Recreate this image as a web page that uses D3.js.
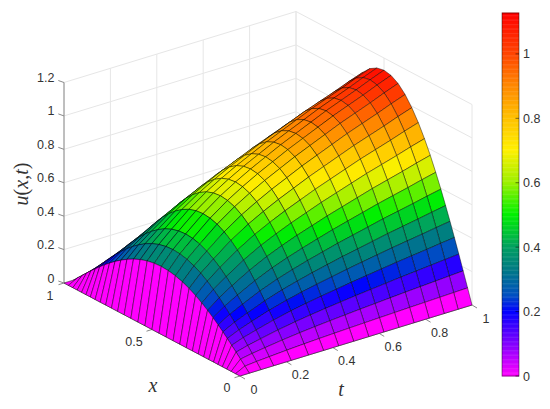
<!DOCTYPE html>
<html>
<head>
<meta charset="utf-8">
<style>html,body{margin:0;padding:0;background:#fff}svg{display:block}</style>
<script src="https://cdn.jsdelivr.net/npm/d3@7"></script>
</head>
<body>
<svg id="c" width="550" height="409"></svg>
<script>
const xGrid = [0,0.025,0.05,0.075,0.1,0.125,0.15,0.177,0.206,0.237,0.27,0.305,0.342,0.38,0.42,0.46,0.5,0.54,0.58,0.62,0.658,0.695,0.73,0.763,0.794,0.823,0.85,0.875,0.9,0.925,0.95,0.975,1];
const tGrid = [0,0.04,0.09,0.145,0.22,0.295,0.36,0.425,0.49,0.555,0.62,0.685,0.75,0.815,0.88,0.94,1];
const xProfile = [0,0.0785,0.1564,0.2334,0.309,0.3827,0.454,0.528,0.603,0.678,0.75,0.818,0.879,0.93,0.969,0.992,1,0.992,0.969,0.93,0.879,0.818,0.75,0.678,0.603,0.528,0.454,0.3827,0.309,0.2334,0.1564,0.0785,0];
const tPeak = [0,0.36,0.44,0.51,0.6,0.675,0.73,0.78,0.825,0.87,0.91,0.95,0.99,1.025,1.06,1.095,1.127];
const zTicks = [0,0.2,0.4,0.6,0.8,1,1.2];
const zTickLabels = ["0","0.2","0.4","0.6","0.8","1","1.2"];
const tTicks = [0,0.2,0.4,0.6,0.8,1];
const tTickLabels = ["0","0.2","0.4","0.6","0.8","1"];
const xTicks = [0,0.5,1];
const xTickLabels = ["0","0.5","1"];
const cbTicks = [0,0.2,0.4,0.6,0.8,1];
const cbTickLabels = ["0","0.2","0.4","0.6","0.8","1"];
const cmapStops = [0,0.1,0.2,0.25,0.33,0.4,0.5,0.6,0.7,0.8,0.9,1,1.127];
const cmapColors = ["#ff00ff","#8000ff","#0000ff","#0050c0","#007a84","#00a060","#00f000","#9cf000","#fff000","#ffc000","#ff8800","#ff4400","#ff0000"];

const svg = d3.select("#c");
const color = d3.scaleLinear().domain(cmapStops).range(cmapColors).clamp(true);

const xToX = d3.scaleLinear().domain([0,1]).range([240,64]);
const xToY = d3.scaleLinear().domain([0,1]).range([376,283]);
const tToX = d3.scaleLinear().domain([0,1]).range([0,232]);
const tToY = d3.scaleLinear().domain([0,1]).range([0,-71]);
const zToY = d3.scaleLinear().domain([0,1.2]).range([0,-200.5]);
const P = (x,t,z) => [xToX(x)+tToX(t), xToY(x)+tToY(t)+zToY(z)];

const FS = 12.5, TXT = "#333";
const g = svg.append("g");

// box walls
const grid = g.append("g").attr("fill","none").attr("stroke","#e6e6e6").attr("stroke-width",1);
const seg = (sel,a,b)=>sel.append("line").attr("x1",a[0]).attr("y1",a[1]).attr("x2",b[0]).attr("y2",b[1]);
zTicks.forEach(z=>{
  seg(grid,P(1,0,z),P(1,1,z));
  seg(grid,P(1,1,z),P(0,1,z));
});
tTicks.forEach(t=>{
  seg(grid,P(1,t,0),P(1,t,1.2));
  seg(grid,P(1,t,0),P(0,t,0));
});
xTicks.forEach(x=>{
  seg(grid,P(x,1,0),P(x,1,1.2));
  seg(grid,P(x,0,0),P(x,1,0));
});

// axis lines & ticks
const ax = g.append("g").attr("stroke","#8a8a8a").attr("stroke-width",1);
seg(ax,P(1,0,0),P(1,0,1.2));
seg(ax,P(1,0,0),P(0,0,0));
seg(ax,P(0,0,0),P(0,1,0));
zTicks.forEach(z=>{const p=P(1,0,z); seg(ax,p,[p[0]-5.7,p[1]-2]);});
tTicks.forEach(t=>{const p=P(0,t,0); seg(ax,p,[p[0]+5,p[1]+3]);});
xTicks.forEach(x=>{const p=P(x,0,0); seg(ax,p,[p[0]-5.5,p[1]+1.7]);});

// surface: painter's order, far corner first
const surf = g.append("g").attr("stroke","#000").attr("stroke-opacity",0.55).attr("stroke-width",0.8).attr("stroke-linejoin","round");
const U = (i,j)=>xProfile[i]*tPeak[j];
for(let j=tGrid.length-2;j>=0;j--){
  for(let i=xGrid.length-2;i>=0;i--){
    const pts=[P(xGrid[i],tGrid[j],U(i,j)),P(xGrid[i+1],tGrid[j],U(i+1,j)),P(xGrid[i+1],tGrid[j+1],U(i+1,j+1)),P(xGrid[i],tGrid[j+1],U(i,j+1))];
    surf.append("polygon").attr("points",pts.map(p=>p[0].toFixed(2)+","+p[1].toFixed(2)).join(" ")).attr("fill",color(U(i,j)));
  }
}

// tick labels
const lab = g.append("g").attr("font-family","'Liberation Sans',Arial,sans-serif").attr("font-size",FS).attr("fill",TXT);
zTicks.forEach((z,k)=>{const p=P(1,0,z); lab.append("text").attr("x",p[0]-9.5).attr("y",p[1]-0.5).attr("text-anchor","end").text(zTickLabels[k]);});
tTicks.forEach((t,k)=>{const p=P(0,t,0); lab.append("text").attr("x",p[0]+14).attr("y",p[1]+17.5).attr("text-anchor","middle").text(tTickLabels[k]);});
xTicks.forEach((x,k)=>{const p=P(x,0,0); lab.append("text").attr("x",p[0]-(x===0.5?18:x===1?14:13)).attr("y",p[1]+(x===1?17:16)).attr("text-anchor","middle").text(xTickLabels[k]);});

// axis titles
const serif = "'Liberation Serif','DejaVu Serif',serif";
const title = g.append("g").attr("font-family",serif).attr("font-size",20).attr("fill","#333");
title.append("text").attr("x",153).attr("y",392).attr("text-anchor","middle").attr("font-style","italic").text("x");
title.append("text").attr("x",341).attr("y",396).attr("text-anchor","middle").attr("font-style","italic").text("t");
const ut = title.append("text").attr("transform","translate(28,184) rotate(-90)").attr("text-anchor","middle");
[["u",1],["(",0],["x",1],[",",0],["t",1],[")",0]].forEach(([s,it])=>ut.append("tspan").attr("font-style",it?"italic":"normal").text(s));

// colorbar
const cbY = d3.scaleLinear().domain([0,1.127]).range([376,13]);
const cb = svg.append("g");
d3.range(0,1.127,0.004).forEach(v=>{
  cb.append("rect").attr("x",502).attr("width",17).attr("y",cbY(v+0.004)).attr("height",cbY(v)-cbY(v+0.004)+0.4).attr("fill",color(v));
});
cb.append("rect").attr("x",502).attr("y",13).attr("width",17).attr("height",363).attr("fill","none").attr("stroke","#000").attr("stroke-opacity",0.45).attr("stroke-width",1);
cbTicks.forEach((v,k)=>{
  const y=cbY(v);
  cb.append("line").attr("x1",515.5).attr("x2",519).attr("y1",y).attr("y2",y).attr("stroke","#000").attr("stroke-opacity",0.5);
  cb.append("text").attr("x",523).attr("y",y+4.5).attr("font-family","'Liberation Sans',Arial,sans-serif").attr("font-size",FS).attr("fill",TXT).text(cbTickLabels[k]);
});
</script>
</body>
</html>
